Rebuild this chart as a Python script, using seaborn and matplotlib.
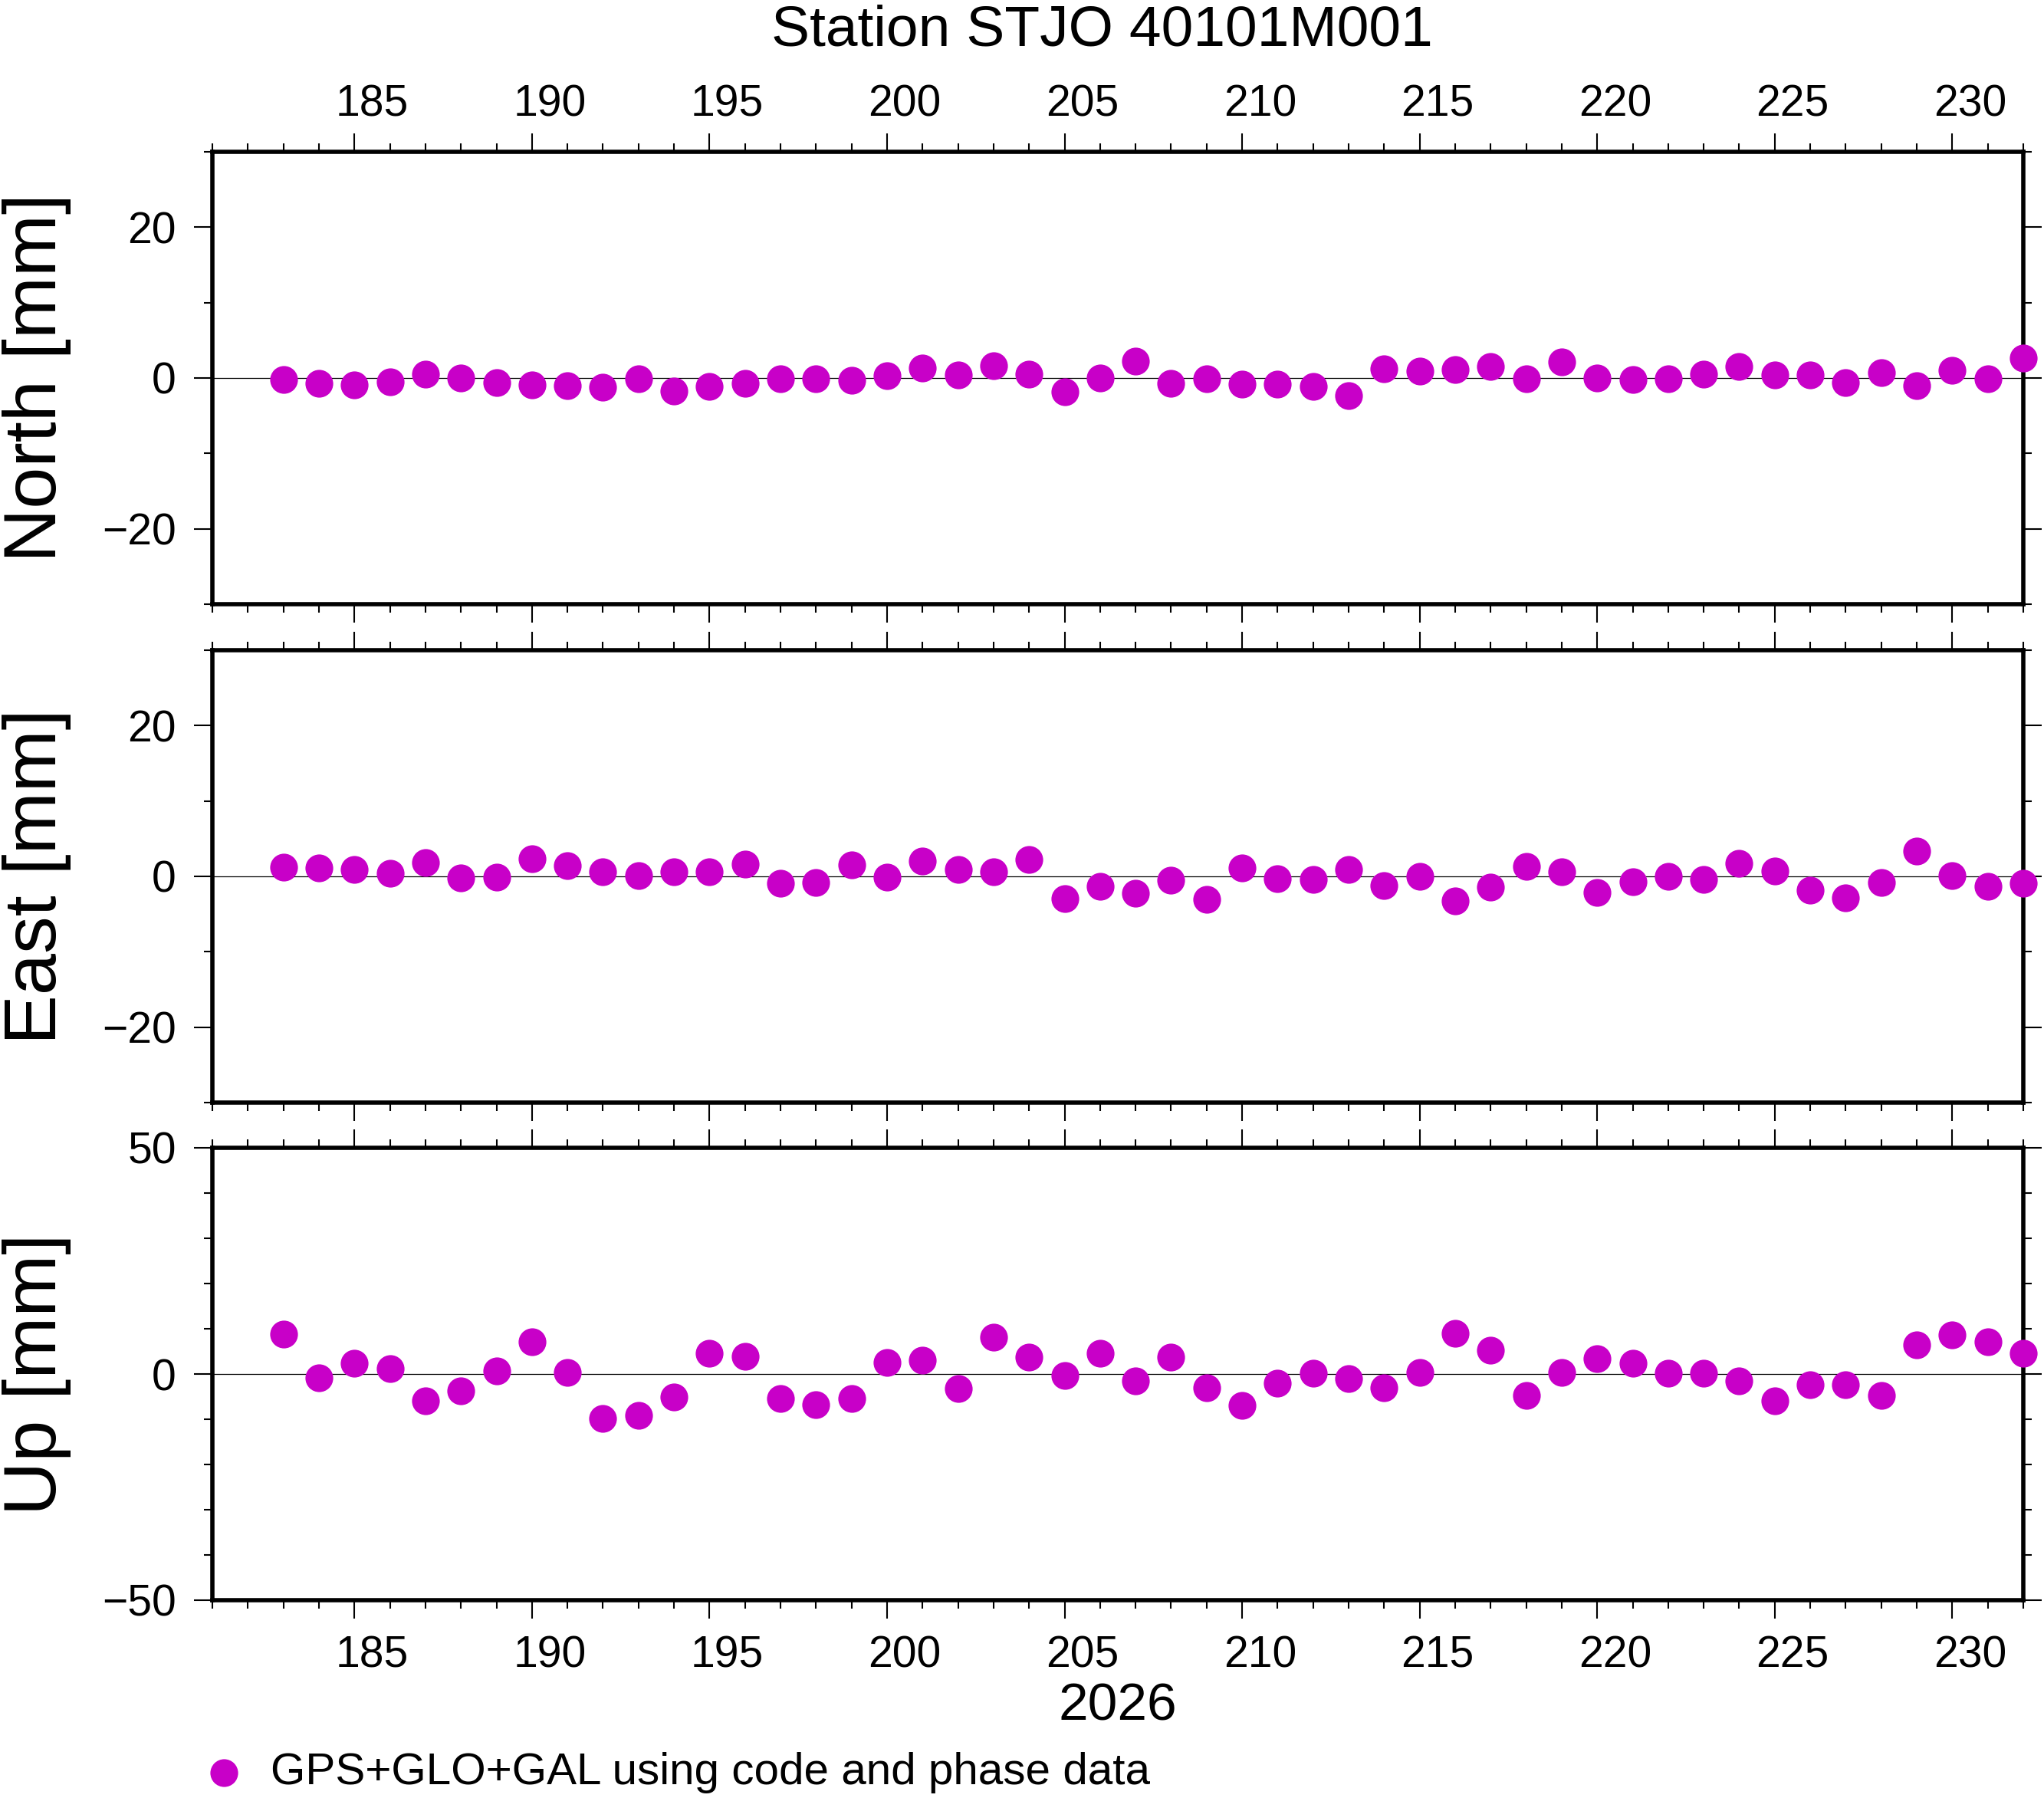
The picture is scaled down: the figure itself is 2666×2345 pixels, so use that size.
import matplotlib
matplotlib.use("Agg")
import matplotlib.pyplot as plt
from matplotlib.ticker import MultipleLocator
from matplotlib.transforms import ScaledTranslation
import pandas as pd
import seaborn as sns

# ===============================
# data (day of year 2026, residuals in mm)
# ===============================
doy = list(range(183, 233))

north = [-0.2, -0.7, -0.9, -0.5, 0.5, 0.0, -0.6, -0.9, -1.0, -1.2,
         -0.1, -1.7, -1.1, -0.7, -0.1, -0.1, -0.3, 0.3, 1.3, 0.4,
         1.6, 0.5, -1.8, 0.0, 2.2, -0.7, -0.1, -0.8, -0.8, -1.1,
         -2.3, 1.2, 0.9, 1.1, 1.5, -0.1, 2.1, 0.0, -0.2, -0.1,
         0.5, 1.5, 0.4, 0.4, -0.6, 0.7, -1.0, 1.0, -0.1, 2.6]

east = [1.2, 1.1, 0.9, 0.4, 1.8, -0.2, -0.1, 2.3, 1.4, 0.6,
        0.1, 0.6, 0.6, 1.6, -0.9, -0.8, 1.5, -0.1, 2.0, 0.9,
        0.6, 2.2, -2.9, -1.3, -2.2, -0.5, -3.1, 1.1, -0.3, -0.4,
        0.9, -1.2, 0.0, -3.3, -1.4, 1.3, 0.6, -2.1, -0.7, 0.0,
        -0.4, 1.7, 0.7, -1.8, -2.8, -0.8, 3.4, 0.1, -1.3, -0.9]

up = [8.8, -0.9, 2.4, 1.2, -5.9, -3.7, 0.7, 7.2, 0.4, -9.9,
      -9.2, -5.0, 4.5, 3.9, -5.4, -6.7, -5.4, 2.6, 3.1, -3.3,
      8.2, 3.8, -0.3, 4.6, -1.6, 3.8, -3.1, -6.9, -2.1, 0.1,
      -1.1, -3.1, 0.4, 9.0, 5.2, -4.7, 0.4, 3.4, 2.4, 0.2,
      0.1, -1.6, -6.0, -2.3, -2.3, -4.7, 6.5, 8.7, 7.2, 4.5]

panel_labels = ["North [mm]", "East [mm]", "Up [mm]"]
panel_limits = [(-30, 30), (-30, 30), (-50, 50)]
panel_major = [20, 20, 50]
title = "Station STJO 40101M001"
year_label = "2026"
legend_label = "GPS+GLO+GAL using code and phase data"

df = pd.DataFrame({"doy": doy, "north": north, "east": east, "up": up})

# ===============================
# style
# ===============================
sns.set_theme(style="ticks")
plt.rcParams["font.family"] = ["Liberation Sans", "DejaVu Sans"]
plt.rcParams["text.color"] = "black"
plt.rcParams["axes.labelcolor"] = "black"
plt.rcParams["axes.edgecolor"] = "black"
plt.rcParams["xtick.color"] = "black"
plt.rcParams["ytick.color"] = "black"

MAG = "#c800c8"
W, H = 2666, 2345
fig = plt.figure(figsize=(W / 100, H / 100), dpi=100)

x0, x1 = 181, 232
left, width, height = 277 / W, (2639 - 277) / W, 590 / H
bottoms = [1 - 788 / H, 1 - 1438 / H, 1 - 2087 / H]

axes = []
for i, col in enumerate(["north", "east", "up"]):
    ax = fig.add_axes([left, bottoms[i], width, height])
    ax.axhline(0, color="black", lw=0.9, zorder=1)
    sns.scatterplot(data=df, x="doy", y=col, ax=ax, color=MAG, s=680,
                    linewidth=0, legend=False, clip_on=False, zorder=3,
                    label=legend_label)
    ax.set_xlim(x0, x1)
    ax.set_ylim(*panel_limits[i])
    ax.xaxis.set_major_locator(MultipleLocator(5))
    ax.xaxis.set_minor_locator(MultipleLocator(1))
    ax.yaxis.set_major_locator(MultipleLocator(panel_major[i]))
    ax.yaxis.set_minor_locator(MultipleLocator(10))
    for sp in ax.spines.values():
        sp.set_visible(True)
        sp.set_linewidth(4)
    ax.tick_params(which="both", direction="out", top=True, bottom=True,
                   left=True, right=True, labelright=False, width=1.5,
                   labelsize=41)
    ax.tick_params(which="major", length=17)
    ax.tick_params(which="minor", length=8)
    ax.tick_params(axis="y", pad=17)
    ax.set_xlabel("")
    ax.set_ylabel(panel_labels[i], fontsize=70, va="baseline")
    ax.yaxis.set_label_coords((73 - 277) / (2639 - 277), 0.5)
    axes.append(ax)

ax1, ax2, ax3 = axes
ax1.tick_params(axis="x", labeltop=True, labelbottom=False, pad=8)
ax2.tick_params(axis="x", labeltop=False, labelbottom=False)
ax3.tick_params(axis="x", labeltop=False, labelbottom=True, pad=16)
ax3.set_xlabel(year_label, fontsize=50, labelpad=5)

fig.text(1437 / W, 1 - 60 / H, title, ha="center", va="baseline", fontsize=54)

fig.legend(handles=[ax3.collections[-1]], labels=[legend_label],
           loc="center left", bbox_to_anchor=(274 / W, 1 - 2312 / H),
           frameon=False, fontsize=42, handlelength=0.6, handletextpad=0.76,
           borderpad=0, borderaxespad=0)

# day labels sit in the middle of the day (half a day right of the tick)
fig.canvas.draw()
half_day = 0.5 * width * W / (x1 - x0) / fig.dpi
shift = ScaledTranslation(half_day, 0, fig.dpi_scale_trans)
for ax in (ax1, ax3):
    for tick in ax.xaxis.get_major_ticks():
        for lab in (tick.label1, tick.label2):
            lab.set_transform(lab.get_transform() + shift)

fig.savefig("out.png", dpi=100)
plt.close(fig)
